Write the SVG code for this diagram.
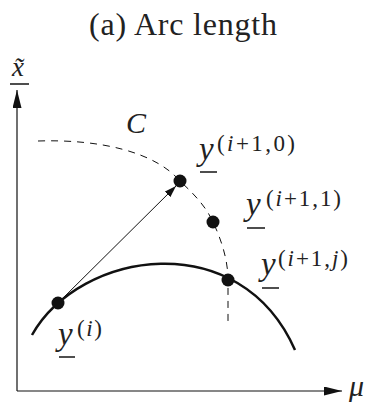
<svg xmlns="http://www.w3.org/2000/svg" width="367" height="403" viewBox="0 0 367 403">
<style>
text{font-family:"Liberation Serif","DejaVu Serif",serif;fill:#222}
.title{font-size:32px}
.m{font-size:33px;font-style:italic}
.s{font-size:23px}
.it{font-style:italic}
.ul{stroke:#222;stroke-width:1.6}
.dot{fill:#111}
</style>
<defs>
<marker id="ah" viewBox="0 0 12 8" refX="12" refY="4" markerWidth="12" markerHeight="8" markerUnits="userSpaceOnUse" orient="auto">
<path d="M0,0 L12,4 L0,8 Z" fill="#111"/>
</marker>
<marker id="axh" viewBox="0 0 18 9" refX="18" refY="4.5" markerWidth="18" markerHeight="9" markerUnits="userSpaceOnUse" orient="auto">
<path d="M0,0 L18,4.5 L0,9 Z" fill="#111"/>
</marker>
</defs>
<text class="title" x="89" y="35" textLength="188" lengthAdjust="spacing">(a) Arc length</text>
<g id="axes">
<line x1="17" y1="391" x2="17" y2="90" stroke="#111" stroke-width="1.2" marker-end="url(#axh)"/>
<line x1="17" y1="391" x2="342" y2="391" stroke="#111" stroke-width="1.2" marker-end="url(#axh)"/>
<text class="m" x="12" y="76" style="font-size:27px">x̃</text>
<line class="ul" x1="10" y1="84" x2="29" y2="84"/>
<text class="m" x="349" y="396" style="font-size:30px">μ</text>
</g>
<g id="connectors">
<path id="curveC" d="M38,141 C100,139 155,152 180,181 C196,196 206,207 213,222 C220,237 228,258 228,280 L228,322" fill="none" stroke="#111" stroke-width="1" stroke-dasharray="7 6"/>
<path id="solid" d="M32,335 C80,250 240,225 295,350" fill="none" stroke="#111" stroke-width="2.5"/>
<line x1="58" y1="303" x2="176" y2="186" stroke="#111" stroke-width="1" marker-end="url(#ah)"/>
</g>
<text class="m" x="126" y="133" style="font-size:30px">C</text>
<g id="y_i">
<circle class="dot" cx="58" cy="303" r="6.5"/>
<text class="m" x="58" y="345">y</text>
<line class="ul" x1="59" y1="357" x2="75" y2="357"/>
<text class="s" x="77" y="336" textLength="25" lengthAdjust="spacing">(<tspan class="it">i</tspan>)</text>
</g>
<g id="y_i10">
<circle class="dot" cx="180" cy="181" r="6.5"/>
<text class="m" x="199" y="160">y</text>
<line class="ul" x1="200" y1="172" x2="217" y2="172"/>
<text class="s" x="217" y="151" textLength="78" lengthAdjust="spacing">(<tspan class="it">i</tspan>+1,0)</text>
</g>
<g id="y_i11">
<circle class="dot" cx="213" cy="222" r="6.5"/>
<text class="m" x="246" y="215">y</text>
<line class="ul" x1="247" y1="228" x2="265" y2="228"/>
<text class="s" x="266" y="206" textLength="75" lengthAdjust="spacing">(<tspan class="it">i</tspan>+1,1)</text>
</g>
<g id="y_i1j">
<circle class="dot" cx="228" cy="280" r="6.5"/>
<text class="m" x="261" y="275">y</text>
<line class="ul" x1="262" y1="288" x2="279" y2="288"/>
<text class="s" x="278" y="266" textLength="70" lengthAdjust="spacing">(<tspan class="it">i</tspan>+1,<tspan class="it">j</tspan>)</text>
</g>
</svg>
